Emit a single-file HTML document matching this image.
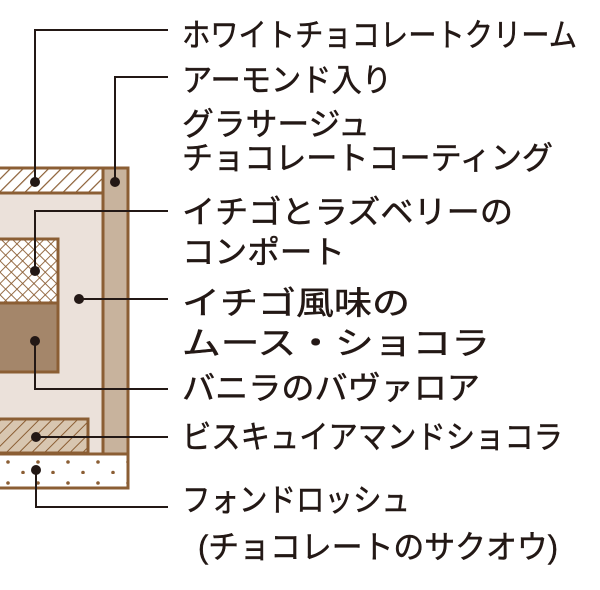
<!DOCTYPE html>
<html><head><meta charset="utf-8"><style>
html,body{margin:0;padding:0;background:#fff;}
svg{display:block;}
text{font-family:"Liberation Sans","Noto Sans CJK JP",sans-serif;font-size:32px;fill:#231815;stroke:#231815;stroke-width:0.5;}
</style></head><body>
<svg width="600" height="590" viewBox="0 0 600 590" xmlns="http://www.w3.org/2000/svg">
<defs>
<pattern id="hatch" width="9" height="9" patternUnits="userSpaceOnUse" patternTransform="rotate(45)">
<rect width="9" height="9" fill="#fff"/><line x1="0" y1="0" x2="0" y2="9" stroke="#8b5e34" stroke-width="2.4"/></pattern>
<pattern id="hatch2" width="9" height="9" patternUnits="userSpaceOnUse" patternTransform="rotate(45)">
<rect width="9" height="9" fill="#d8c6b0"/><line x1="0" y1="0" x2="0" y2="9" stroke="#8b5e34" stroke-width="2"/></pattern>
<pattern id="cross" width="8" height="8" patternUnits="userSpaceOnUse" patternTransform="rotate(45)">
<rect width="8" height="8" fill="#fff"/><line x1="0" y1="0" x2="0" y2="8" stroke="#8b5e34" stroke-width="1.8"/><line x1="0" y1="0" x2="8" y2="0" stroke="#8b5e34" stroke-width="1.8"/></pattern>
<pattern id="dots" width="30" height="21" patternUnits="userSpaceOnUse" x="0" y="453">
<rect width="30" height="21" fill="#fff"/><circle cx="8" cy="9" r="1.8" fill="#8b5e34"/><circle cx="23" cy="19.5" r="1.8" fill="#8b5e34"/></pattern>
</defs>
<rect x="0" y="168" width="128" height="320" fill="#ebe1da"/>
<rect x="103" y="168" width="25" height="286" fill="#c8b39d" stroke="#8b5e34" stroke-width="3"/>
<rect x="-3" y="168" width="106" height="25" fill="url(#hatch)" stroke="#8b5e34" stroke-width="3"/>
<rect x="-3" y="239" width="61" height="64" fill="url(#cross)" stroke="#8b5e34" stroke-width="3"/>
<rect x="-3" y="303" width="61" height="69" fill="#a4866a" stroke="#8b5e34" stroke-width="3"/>
<rect x="-3" y="419" width="91" height="34" fill="url(#hatch2)" stroke="#8b5e34" stroke-width="3"/>
<rect x="-3" y="454" width="131" height="34" fill="url(#dots)" stroke="#8b5e34" stroke-width="3"/>
<g stroke="#231815" stroke-width="2" fill="none">
<polyline points="35,182 35,30 168,30"/>
<polyline points="115,182 115,77 168,77"/>
<polyline points="35,271 35,211 168,211"/>
<line x1="79" y1="299" x2="168" y2="299"/>
<polyline points="35,341 35,389 168,389"/>
<line x1="36" y1="437" x2="168" y2="437"/>
<polyline points="36,470 36,507 168,507"/>
</g>
<g fill="#231815">
<circle cx="35" cy="182" r="5"/><circle cx="115" cy="182" r="5"/>
<circle cx="35" cy="271" r="5"/><circle cx="79" cy="299" r="5"/>
<circle cx="35" cy="341" r="5"/><circle cx="36" cy="437" r="5"/>
<circle cx="36" cy="470" r="5"/>
</g>
<text x="182" y="46" textLength="395" lengthAdjust="spacingAndGlyphs">ホワイトチョコレートクリーム</text>
<text x="182" y="91" textLength="210" lengthAdjust="spacingAndGlyphs">アーモンド入り</text>
<text x="182" y="135" textLength="188" lengthAdjust="spacingAndGlyphs">グラサージュ</text>
<text x="182" y="169" textLength="371" lengthAdjust="spacingAndGlyphs">チョコレートコーティング</text>
<text x="182" y="223" textLength="331" lengthAdjust="spacingAndGlyphs">イチゴとラズベリーの</text>
<text x="182" y="263" textLength="163" lengthAdjust="spacingAndGlyphs">コンポート</text>
<text x="182" y="314" textLength="228" lengthAdjust="spacingAndGlyphs">イチゴ風味の</text>
<text x="182" y="354" textLength="308" lengthAdjust="spacingAndGlyphs">ムース・ショコラ</text>
<text x="182" y="399" textLength="298" lengthAdjust="spacingAndGlyphs">バニラのバヴァロア</text>
<text x="182" y="448" textLength="381" lengthAdjust="spacingAndGlyphs">ビスキュイアマンドショコラ</text>
<text x="182" y="511" textLength="228" lengthAdjust="spacingAndGlyphs">フォンドロッシュ</text>
<text x="198" y="558" textLength="360" lengthAdjust="spacingAndGlyphs">(チョコレートのサクオウ)</text>
</svg>
</body></html>
